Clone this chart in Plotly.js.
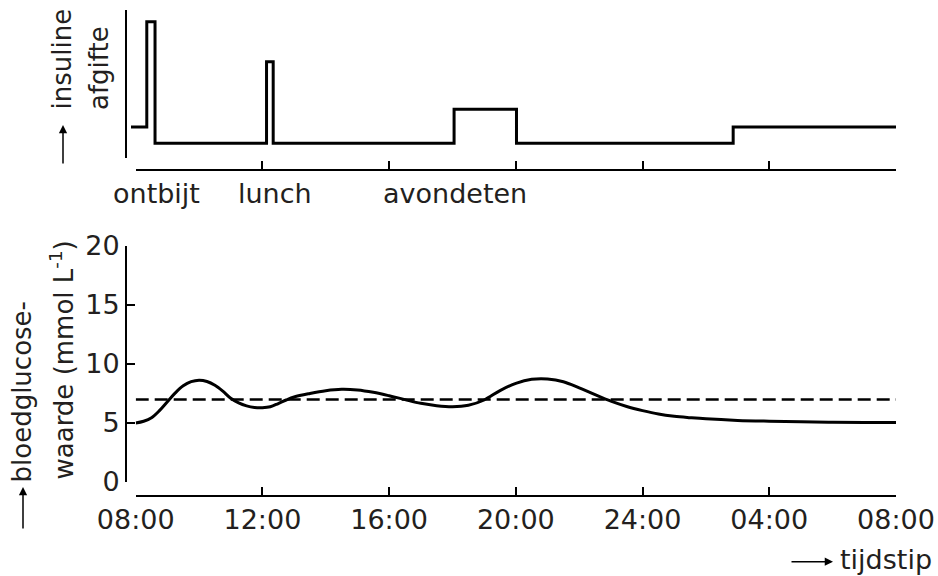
<!DOCTYPE html>
<html><head><meta charset="utf-8">
<script src="https://cdn.plot.ly/plotly-3.0.1.min.js"></script>
<style>html,body{margin:0;padding:0;background:#fff}#chart{width:938px;height:576px}</style>
</head><body><div id="chart"></div>
<script>
// ---- data ----
const hours = [0,0.25,0.5,0.75,1,1.25,1.5,1.75,2,2.25,2.5,2.75,3,3.25,3.5,3.75,4,4.25,4.5,4.75,5,5.5,6,6.5,7,7.5,8,8.5,9,9.5,10,10.5,11,11.5,12,12.5,13,13.5,14,14.5,15,15.5,16,16.5,17,17.5,18,19,20,21,22,23,24];
const glucose = [5.0,5.15,5.45,6.05,6.8,7.55,8.15,8.5,8.63,8.52,8.2,7.7,7.1,6.7,6.45,6.32,6.3,6.38,6.65,6.95,7.2,7.5,7.74,7.86,7.8,7.6,7.31,6.98,6.67,6.47,6.38,6.5,6.95,7.75,8.36,8.7,8.73,8.5,7.98,7.4,6.85,6.4,6.05,5.76,5.57,5.45,5.35,5.22,5.15,5.1,5.07,5.05,5.05];
const normTimes = [0,24];
const normLevel = [7,7];
const insulinTimes = [-0.15,0.35,0.61,4.13,4.34,10.05,12.02,18.86,24];
const insulinLevels = [2.1,9.2,1.0,6.5,1.0,3.3,1.0,2.1,2.1];
const mealLabels = ['ontbijt','lunch','avondeten'];
const mealTimes = [0.67,4.41,10.07];
const timeTickVals = [0,4,8,12,16,20,24];
const timeTickText = ['08:00','12:00','16:00','20:00','24:00','04:00','08:00'];
const glucoseTicks = [0,5,10,15,20];

// ---- layout helpers ----
const W = 938, H = 576;
const px = v => v / W, py = v => (H - v) / H;
const TXT = '#231f20';
const FONT = 'DejaVu Sans';
const x0 = 135.7, x1 = 896;
const scale = (x1 - x0) / 24;
const x3start = x0 + insulinTimes[0] * scale;

const axCommon = {
  showline: true, linecolor: '#000', linewidth: 2,
  ticks: 'inside', ticklen: 8, tickwidth: 2, tickcolor: '#000',
  showgrid: false, zeroline: false, fixedrange: true,
  tickfont: {family: FONT, size: 27, color: TXT}
};

const traces = [
  {x: hours, y: glucose, xaxis: 'x', yaxis: 'y', type: 'scatter', mode: 'lines',
   line: {color: '#000', width: 3, shape: 'spline', smoothing: 1}, hoverinfo: 'skip'},
  {x: normTimes, y: normLevel, xaxis: 'x', yaxis: 'y', type: 'scatter', mode: 'lines',
   line: {color: '#000', width: 2.5, dash: '13px,6px'}, hoverinfo: 'skip'},
  {x: [], y: [], xaxis: 'x2', yaxis: 'y2', type: 'scatter', mode: 'lines', hoverinfo: 'skip'},
  {x: insulinTimes, y: insulinLevels, xaxis: 'x3', yaxis: 'y2', type: 'scatter', mode: 'lines',
   line: {color: '#000', width: 3, shape: 'hv'}, hoverinfo: 'skip'}
];

const ann = [];
function rot(text, cx, bottom) {
  ann.push({text, textangle: -90, x: px(cx), y: py(bottom), xref: 'paper', yref: 'paper',
    xanchor: 'center', yanchor: 'bottom', showarrow: false,
    font: {family: FONT, size: 26, color: TXT}});
}
function arrow(tx, ty, ax, ay) {
  ann.push({text: '', x: px(tx), y: py(ty), xref: 'paper', yref: 'paper',
    showarrow: true, ax, ay, arrowhead: 2, arrowsize: 1.1, arrowwidth: 1.5,
    arrowcolor: '#000', standoff: 0});
}
rot('insuline', 62, 112);
rot('afgifte', 99, 112);
rot('bloedglucose-', 21, 485);
rot('waarde (mmol L<sup>-1</sup>)', 62, 482);
arrow(63, 125, 0, 40);
arrow(23, 487, 0, 43);
arrow(833, 561.7, -43, 0);
ann.push({text: 'tijdstip', x: px(885.5), y: py(559), xref: 'paper', yref: 'paper',
  xanchor: 'center', yanchor: 'middle', showarrow: false,
  font: {family: FONT, size: 27, color: TXT}});
mealLabels.forEach((m, i) => ann.push({text: m, x: mealTimes[i], y: py(193), xref: 'x2', yref: 'paper',
  xanchor: 'center', yanchor: 'middle', showarrow: false,
  font: {family: FONT, size: 27, color: TXT}}));

const layout = {
  width: W, height: H, margin: {l: 0, r: 0, t: 0, b: 0},
  paper_bgcolor: '#fff', plot_bgcolor: 'rgba(0,0,0,0)', showlegend: false,
  xaxis: Object.assign({}, axCommon, {domain: [px(x0), px(x1)], range: [0, 24], anchor: 'free',
    position: py(496), tickvals: timeTickVals, ticktext: timeTickText}),
  yaxis: Object.assign({}, axCommon, {domain: [py(482), py(246)], range: [0, 20], anchor: 'free',
    position: px(126), tickvals: glucoseTicks}),
  xaxis2: Object.assign({}, axCommon, {domain: [px(x0), px(x1)], range: [0, 24], anchor: 'free',
    position: py(170), tickvals: timeTickVals, showticklabels: false}),
  yaxis2: Object.assign({}, axCommon, {domain: [py(158), py(10)], range: [0, 10], anchor: 'free',
    position: px(126), tickvals: [0], showticklabels: false}),
  xaxis3: {domain: [px(x3start), px(x1)], range: [insulinTimes[0], 24], anchor: 'free', position: py(170),
    visible: false, fixedrange: true},
  annotations: ann
};
Plotly.newPlot('chart', traces, layout, {displayModeBar: false, staticPlot: true});
</script></body></html>
